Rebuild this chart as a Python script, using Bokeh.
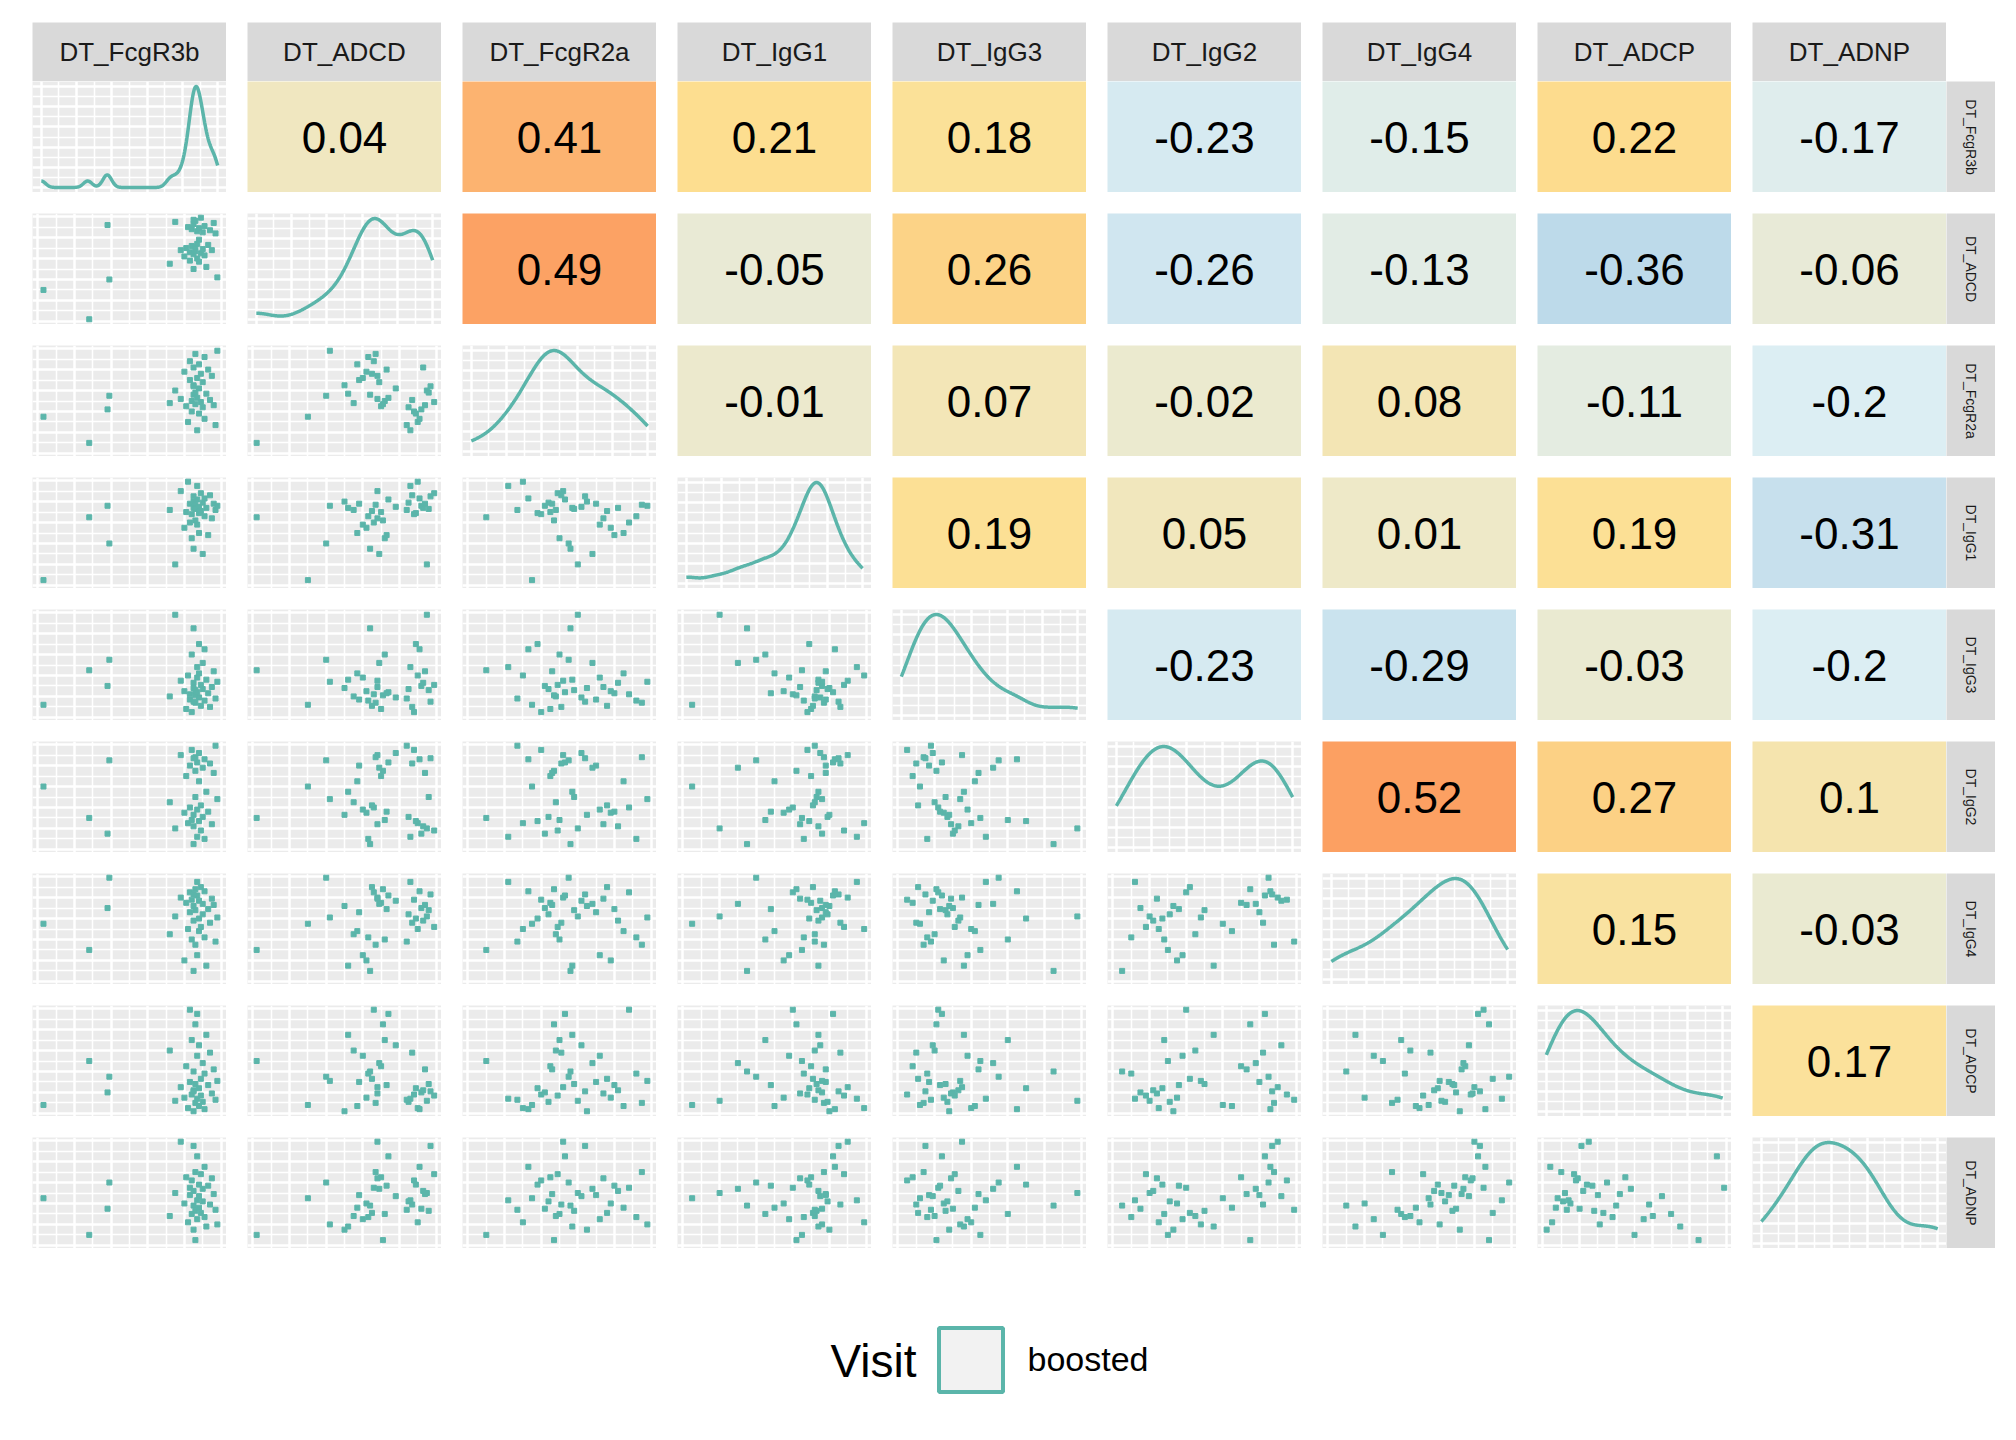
import numpy as np
from bokeh.plotting import figure
from bokeh.layouts import column, row
from bokeh.models import Spacer, FixedTicker
from bokeh.core.properties import value
from bokeh.embed import file_html
from bokeh.resources import INLINE

variables = ["DT_FcgR3b", "DT_ADCD", "DT_FcgR2a", "DT_IgG1", "DT_IgG3",
             "DT_IgG2", "DT_IgG4", "DT_ADCP", "DT_ADNP"]

corr = [
    [None, "0.04", "0.41", "0.21", "0.18", "-0.23", "-0.15", "0.22", "-0.17"],
    [None, None, "0.49", "-0.05", "0.26", "-0.26", "-0.13", "-0.36", "-0.06"],
    [None, None, None, "-0.01", "0.07", "-0.02", "0.08", "-0.11", "-0.2"],
    [None, None, None, None, "0.19", "0.05", "0.01", "0.19", "-0.31"],
    [None, None, None, None, None, "-0.23", "-0.29", "-0.03", "-0.2"],
    [None, None, None, None, None, None, "0.52", "0.27", "0.1"],
    [None, None, None, None, None, None, None, "0.15", "-0.03"],
    [None, None, None, None, None, None, None, None, "0.17"],
]

# estimated normalized values (0..1) per variable, same subjects across variables
FcgR3b = [0.03, 0.28, 0.38, 0.39, 0.72, 0.75, 0.78, 0.80, 0.81, 0.82, 0.83, 0.83,
          0.84, 0.84, 0.85, 0.85, 0.85, 0.86, 0.86, 0.86, 0.87, 0.87, 0.87, 0.88,
          0.88, 0.88, 0.89, 0.89, 0.90, 0.90, 0.91, 0.91, 0.92, 0.93, 0.94, 0.95,
          0.96, 0.97, 0.98, 0.85]
ADCD = [0.30, 0.02, 0.92, 0.40, 0.55, 0.95, 0.68, 0.62, 0.70, 0.90, 0.66, 0.58,
        0.72, 0.88, 0.50, 0.64, 0.93, 0.71, 0.67, 0.96, 0.86, 0.60, 0.74, 0.89,
        0.57, 0.78, 0.99, 0.65, 0.69, 0.85, 0.63, 0.91, 0.52, 0.73, 0.87, 0.68,
        0.94, 0.84, 0.42, 0.97]
FcgR2a = [0.35, 0.10, 0.42, 0.55, 0.48, 0.60, 0.52, 0.78, 0.45, 0.30, 0.88, 0.70,
          0.50, 0.40, 0.65, 0.56, 0.82, 0.47, 0.95, 0.58, 0.22, 0.72, 0.53, 0.38,
          0.85, 0.62, 0.49, 0.76, 0.68, 0.44, 0.92, 0.33, 0.57, 0.80, 0.51, 0.74,
          0.46, 0.27, 0.98, 0.64]
IgG1 = [0.05, 0.65, 0.76, 0.40, 0.72, 0.20, 0.90, 0.55, 0.70, 0.99, 0.60, 0.78,
        0.45, 0.68, 0.80, 0.35, 0.74, 0.62, 0.77, 0.73, 0.95, 0.58, 0.82, 0.69,
        0.50, 0.75, 0.88, 0.71, 0.30, 0.79, 0.66, 0.83, 0.74, 0.48, 0.86, 0.64,
        0.78, 0.72, 0.76, 0.85]
IgG3 = [0.12, 0.45, 0.30, 0.55, 0.20, 0.98, 0.35, 0.25, 0.08, 0.40, 0.22, 0.17,
        0.60, 0.05, 0.28, 0.85, 0.33, 0.21, 0.14, 0.26, 0.48, 0.38, 0.24, 0.70,
        0.42, 0.19, 0.31, 0.11, 0.52, 0.27, 0.16, 0.65, 0.36, 0.23, 0.10, 0.29,
        0.44, 0.18, 0.34, 0.15]
IgG2 = [0.60, 0.30, 0.15, 0.85, 0.45, 0.20, 0.90, 0.35, 0.70, 0.25, 0.40, 0.80,
        0.28, 0.95, 0.33, 0.05, 0.22, 0.75, 0.88, 0.50, 0.12, 0.38, 0.83, 0.27,
        0.65, 0.92, 0.18, 0.42, 0.78, 0.31, 0.10, 0.86, 0.55, 0.36, 0.82, 0.24,
        0.73, 0.99, 0.48, 0.87]
IgG4 = [0.55, 0.30, 0.70, 0.99, 0.45, 0.62, 0.80, 0.20, 0.75, 0.50, 0.85, 0.66,
        0.40, 0.78, 0.72, 0.10, 0.58, 0.88, 0.35, 0.68, 0.95, 0.25, 0.82, 0.60,
        0.48, 0.77, 0.52, 0.90, 0.74, 0.64, 0.42, 0.86, 0.15, 0.69, 0.56, 0.79,
        0.73, 0.38, 0.61, 0.83]
ADCP = [0.08, 0.50, 0.20, 0.35, 0.60, 0.12, 0.25, 0.15, 0.45, 0.05, 0.99, 0.30,
        0.70, 0.18, 0.02, 0.40, 0.22, 0.85, 0.10, 0.28, 0.14, 0.55, 0.95, 0.24,
        0.07, 0.65, 0.17, 0.33, 0.48, 0.11, 0.38, 0.04, 0.75, 0.27, 0.58, 0.19,
        0.42, 0.13, 0.31, 0.21]
ADNP = [0.45, 0.10, 0.35, 0.60, 0.28, 0.50, 0.99, 0.40, 0.65, 0.22, 0.55, 0.48,
        0.30, 0.62, 0.15, 0.38, 0.52, 0.05, 0.70, 0.33, 0.43, 0.25, 0.85, 0.58,
        0.36, 0.47, 0.68, 0.31, 0.54, 0.42, 0.27, 0.75, 0.18, 0.57, 0.39, 0.64,
        0.49, 0.34, 0.20, 0.95]
series = [FcgR3b, ADCD, FcgR2a, IgG1, IgG3, IgG2, IgG4, ADCP, ADNP]

legend_title = "Visit"
legend_label = "boosted"

TEAL = "#5BB5AA"
PW, PH, GAP, VGAP, STRIP_H, STRIP_W = 194, 111, 21, 21, 59, 49

stops = [(-0.4, (181, 213, 232)), (-0.2, (220, 238, 243)), (0.0, (237, 233, 203)),
         (0.2, (253, 224, 146)), (0.3, (252, 203, 128)), (0.5, (252, 160, 98))]

def corr_color(c):
    if c <= stops[0][0]:
        r = stops[0][1]
    elif c >= stops[-1][0]:
        r = stops[-1][1]
    else:
        for (a, ca), (b, cb) in zip(stops[:-1], stops[1:]):
            if a <= c <= b:
                t = (c - a) / (b - a)
                r = tuple(int(round(ca[k] + t * (cb[k] - ca[k]))) for k in range(3))
                break
    return "#%02x%02x%02x" % r

def base_fig(w, h, xr=(-0.03, 1.03), yr=(-0.03, 1.03)):
    p = figure(width=w, height=h, x_range=xr, y_range=yr, output_backend="svg",
               toolbar_location=None, min_border=0)
    p.axis.visible = False
    p.outline_line_color = None
    return p

def gg_panel(p, xr, yr):
    p.background_fill_color = "#EBEBEB"
    xt = list(np.linspace(xr[0], xr[1], 6)); yt = list(np.linspace(yr[0], yr[1], 6))
    xm = [(a + b) / 2 for a, b in zip(xt[:-1], xt[1:])]
    ym = [(a + b) / 2 for a, b in zip(yt[:-1], yt[1:])]
    p.xgrid.ticker = FixedTicker(ticks=xt, minor_ticks=xm)
    p.ygrid.ticker = FixedTicker(ticks=yt, minor_ticks=ym)
    for g in (p.xgrid, p.ygrid):
        g.grid_line_color = "white"; g.grid_line_width = 2.5
        g.minor_grid_line_color = "white"; g.minor_grid_line_width = 1.5

def kde(v, xs):
    v = np.asarray(v)
    q75, q25 = np.percentile(v, [75, 25])
    bw = 0.9 * min(v.std(ddof=1), (q75 - q25) / 1.34) * len(v) ** -0.2
    return np.exp(-0.5 * ((xs[:, None] - v[None, :]) / bw) ** 2).sum(1)

n = len(variables)
rows = [Spacer(height=22)]
strip_row = [Spacer(width=32)]
for j, name in enumerate(variables):
    s = base_fig(PW, STRIP_H, (0, 1), (0, 1))
    s.background_fill_color = "#D9D9D9"; s.grid.visible = False
    s.text(x=[0.5], y=[0.5], text=[name], text_align="center", text_baseline="middle",
           text_font=value("Liberation Sans"), text_font_size="26px", text_color="#1A1A1A")
    strip_row.append(s)
    if j < n - 1:
        strip_row.append(Spacer(width=GAP))
rows.append(row(strip_row, spacing=0))

for i in range(n):
    cells = [Spacer(width=32)]
    for j in range(n):
        if i == j:
            v = np.asarray(series[j])
            lo, hi = min(v), max(v)
            xs = np.linspace(lo, hi, 300)
            d = kde(v, xs)
            pad = (hi - lo) * 0.05
            yr = (-d.max() * 0.05, d.max() * 1.05)
            p = base_fig(PW, PH, (lo - pad, hi + pad), yr)
            gg_panel(p, (lo, hi), (0, d.max()))
            p.line(xs, d, line_color=TEAL, line_width=3.5)
        elif j > i:
            c = float(corr[i][j])
            p = base_fig(PW, PH, (0, 1), (0, 1))
            p.grid.visible = False
            p.background_fill_color = corr_color(c)
            p.text(x=[0.5], y=[0.5], text=[corr[i][j]], text_align="center",
                   text_baseline="middle", text_font=value("Liberation Sans"),
                   text_font_size="44px", text_color="black")
        else:
            p = base_fig(PW, PH)
            gg_panel(p, (0, 1), (0, 1))
            p.scatter(series[j], series[i], marker="square", size=5, color=TEAL)
        cells.append(p)
        if j < n - 1:
            cells.append(Spacer(width=GAP))
    s = base_fig(STRIP_W, PH, (0, 1), (0, 1))
    s.background_fill_color = "#D9D9D9"; s.grid.visible = False
    s.text(x=[0.5], y=[0.5], text=[variables[i]], angle=-np.pi / 2, text_align="center",
           text_baseline="middle", text_font=value("Liberation Sans"),
           text_font_size="14px", text_color="#1A1A1A")
    cells.append(s)
    rows.append(row(cells, spacing=0))
    if i < n - 1:
        rows.append(Spacer(height=VGAP))

lg = figure(width=1995, height=160, x_range=(0, 1995), y_range=(160, 0),
            output_backend="svg", toolbar_location=None, min_border=0)
lg.axis.visible = False; lg.grid.visible = False; lg.outline_line_color = None
lg.text(x=[830], y=[112], text=[legend_title], text_baseline="middle",
        text_font=value("Liberation Sans"), text_font_size="46px", text_color="black")
lg.rect(x=[970.5], y=[111.5], width=64, height=64, fill_color="#F2F2F2",
        line_color=TEAL, line_width=4)
lg.text(x=[1027], y=[110], text=[legend_label], text_baseline="middle",
        text_font=value("Liberation Sans"), text_font_size="34px", text_color="black")
rows.append(lg)

layout = column(rows, spacing=0)
open("out.html", "w").write(file_html(layout, INLINE))
